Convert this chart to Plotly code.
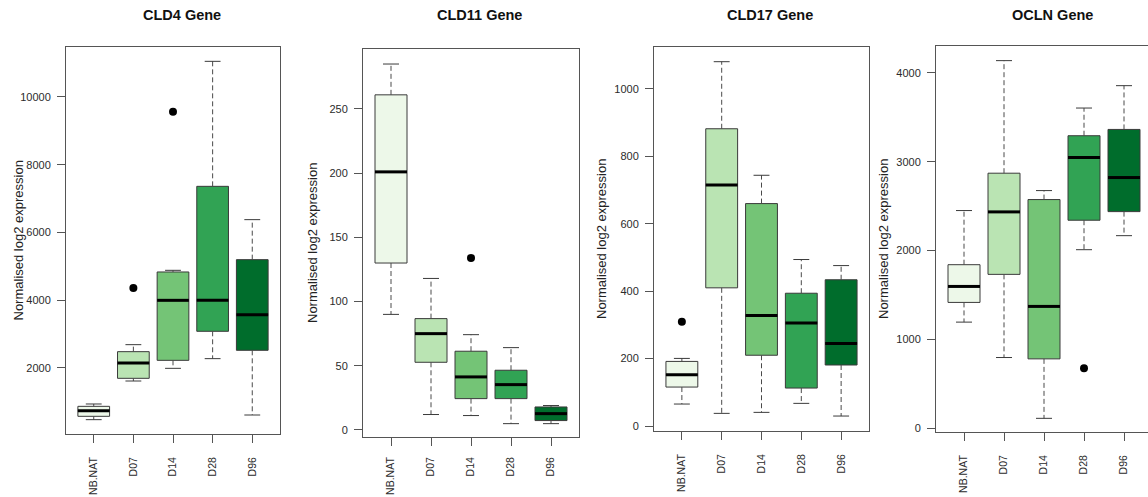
import plotly.graph_objects as go

CATEGORIES = ["NB.NAT", "D07", "D14", "D28", "D96"]
COLORS = ["#EDF8E9", "#BAE4B3", "#74C476", "#31A354", "#006D2C"]

# CLD4 Gene
CLD4_LOWER = [472, 1614, 1988, 2274, 610]
CLD4_Q1 = [571, 1693, 2224, 3081, 2520]
CLD4_MEDIAN = [738, 2146, 3996, 3996, 3573]
CLD4_Q3 = [866, 2480, 4833, 7362, 5197]
CLD4_UPPER = [935, 2687, 4882, 11053, 6378]
CLD4_OUT_GROUP = ["D07", "D14"]
CLD4_OUT_VALUE = [4360, 9567]
CLD4_TICKS = [2000, 4000, 6000, 8000, 10000]

# CLD11 Gene
CLD11_LOWER = [90, 12, 11.2, 4.9, 4.9]
CLD11_Q1 = [130, 52.7, 24.4, 24.4, 7.3]
CLD11_MEDIAN = [201, 75, 41.3, 35.3, 12.7]
CLD11_Q3 = [261, 86.7, 61.3, 46.5, 17.9]
CLD11_UPPER = [285, 118, 74.2, 64.1, 19]
CLD11_OUT_GROUP = ["D14"]
CLD11_OUT_VALUE = [134]
CLD11_TICKS = [0, 50, 100, 150, 200, 250]

# CLD17 Gene
CLD17_LOWER = [65.2, 37.5, 40.5, 67.2, 29.6]
CLD17_Q1 = [115.6, 410, 210, 112.6, 181]
CLD17_MEDIAN = [152, 715, 328, 306, 245]
CLD17_Q3 = [191.7, 882, 660, 394, 434]
CLD17_UPPER = [200.6, 1081, 744, 494, 476]
CLD17_OUT_GROUP = ["NB.NAT"]
CLD17_OUT_VALUE = [309]
CLD17_TICKS = [0, 200, 400, 600, 800, 1000]

# OCLN Gene
OCLN_LOWER = [1193, 794, 109, 2009, 2167]
OCLN_Q1 = [1415, 1731, 779, 2341, 2438]
OCLN_MEDIAN = [1595, 2435, 1370, 3048, 2822]
OCLN_Q3 = [1840, 2871, 2574, 3293, 3364]
OCLN_UPPER = [2450, 4139, 2675, 3605, 3857]
OCLN_OUT_GROUP = ["D28"]
OCLN_OUT_VALUE = [674]
OCLN_TICKS = [0, 1000, 2000, 3000, 4000]

TITLES = ["CLD4 Gene", "CLD11 Gene", "CLD17 Gene", "OCLN Gene"]
Y_TITLE = "Normalised log2 expression"

panels = [
    (CLD4_LOWER, CLD4_Q1, CLD4_MEDIAN, CLD4_Q3, CLD4_UPPER, CLD4_OUT_GROUP, CLD4_OUT_VALUE, CLD4_TICKS),
    (CLD11_LOWER, CLD11_Q1, CLD11_MEDIAN, CLD11_Q3, CLD11_UPPER, CLD11_OUT_GROUP, CLD11_OUT_VALUE, CLD11_TICKS),
    (CLD17_LOWER, CLD17_Q1, CLD17_MEDIAN, CLD17_Q3, CLD17_UPPER, CLD17_OUT_GROUP, CLD17_OUT_VALUE, CLD17_TICKS),
    (OCLN_LOWER, OCLN_Q1, OCLN_MEDIAN, OCLN_Q3, OCLN_UPPER, OCLN_OUT_GROUP, OCLN_OUT_VALUE, OCLN_TICKS),
]

# layout geometry (pixels)
W, H = 1148, 497
PX_X = [(66, 280), (363, 579), (654, 869), (936, 1148)]
PX_Y = [(47, 434), (49, 437), (47, 431), (46, 432)]
X_RANGES = [[0.3, 5.7], [0.3, 5.7], [0.3, 5.7], [0.3, 5.6]]
Y_RANGES = [[49, 11476], [-5.5, 296.7], [-14.8, 1124.6], [-45, 4304]]
X_STANDOFF = [10, 7, 10, 10]
TITLE_X = [181.5, 479.5, 769.5, 1052.5]
YTITLE_X = [18, 312, 602, 884]

FONT = "Liberation Sans, Arial, sans-serif"
AXIS_COLOR = "#555555"
BOX_LINE = "#3a3a3a"
BOXW = 0.8
CAPW = 0.4

fig = go.Figure()
layout = dict(
    width=W, height=H, margin=dict(l=0, r=0, t=0, b=0, autoexpand=False),
    paper_bgcolor="white", plot_bgcolor="white",
    showlegend=False, boxmode="overlay",
    font=dict(family=FONT, color="#333333"),
)
annotations = []

for p, (lo, q1, med, q3, up, og, ov, ticks) in enumerate(panels):
    n = p + 1
    xa = "x" if n == 1 else f"x{n}"
    ya = "y" if n == 1 else f"y{n}"
    xs = list(range(1, len(CATEGORIES) + 1))

    # boxes
    for i, cat in enumerate(CATEGORIES):
        fig.add_trace(go.Box(
            x=[xs[i]], q1=[q1[i]], median=[med[i]], q3=[q3[i]],
            lowerfence=[q1[i]], upperfence=[q3[i]],
            width=BOXW, whiskerwidth=0, fillcolor=COLORS[i],
            line=dict(color=BOX_LINE, width=1), boxpoints=False,
            hoverinfo="skip", xaxis=xa, yaxis=ya, name=cat,
        ))

    # dashed whiskers
    wx, wy = [], []
    for i in range(len(CATEGORIES)):
        wx += [xs[i], xs[i], None, xs[i], xs[i], None]
        wy += [q3[i], up[i], None, q1[i], lo[i], None]
    fig.add_trace(go.Scatter(x=wx, y=wy, mode="lines",
                             line=dict(color="#4a4a4a", width=1, dash="5px,3px"),
                             hoverinfo="skip", xaxis=xa, yaxis=ya))
    # caps
    cx, cy = [], []
    for i in range(len(CATEGORIES)):
        cx += [xs[i] - CAPW / 2, xs[i] + CAPW / 2, None, xs[i] - CAPW / 2, xs[i] + CAPW / 2, None]
        cy += [up[i], up[i], None, lo[i], lo[i], None]
    fig.add_trace(go.Scatter(x=cx, y=cy, mode="lines",
                             line=dict(color="#3a3a3a", width=1),
                             hoverinfo="skip", xaxis=xa, yaxis=ya))
    # thick medians
    mx, my = [], []
    for i in range(len(CATEGORIES)):
        mx += [xs[i] - BOXW / 2, xs[i] + BOXW / 2, None]
        my += [med[i], med[i], None]
    fig.add_trace(go.Scatter(x=mx, y=my, mode="lines",
                             line=dict(color="black", width=3),
                             hoverinfo="skip", xaxis=xa, yaxis=ya))
    # outliers
    ox = [CATEGORIES.index(g) + 1 for g in og]
    fig.add_trace(go.Scatter(x=ox, y=ov, mode="markers",
                             marker=dict(color="black", size=8),
                             hoverinfo="skip", xaxis=xa, yaxis=ya))

    x0, x1 = PX_X[p]
    y0, y1 = PX_Y[p]
    key_x = "xaxis" if n == 1 else f"xaxis{n}"
    key_y = "yaxis" if n == 1 else f"yaxis{n}"
    layout[key_x] = dict(
        domain=[x0 / W, x1 / W], range=X_RANGES[p], anchor=ya,
        tickmode="array", tickvals=xs, ticktext=CATEGORIES, tickangle=-90,
        ticks="outside", ticklen=8, tickcolor=AXIS_COLOR, tickwidth=1,
        showline=True, linecolor=AXIS_COLOR, linewidth=1, mirror=True,
        showgrid=False, zeroline=False, ticklabelstandoff=X_STANDOFF[p],
        automargin=False,
        tickfont=dict(size=10.5, color="#2b2b2b", family=FONT),
    )
    layout[key_y] = dict(
        domain=[1 - y1 / H, 1 - y0 / H], range=Y_RANGES[p], anchor=xa,
        tickmode="array", tickvals=ticks, ticktext=[str(t) for t in ticks],
        ticks="outside", ticklen=8, tickcolor=AXIS_COLOR, tickwidth=1,
        showline=True, linecolor=AXIS_COLOR, linewidth=1, automargin=False,
        mirror=(p < 3), showgrid=False, zeroline=False, ticklabelstandoff=4,
        tickfont=dict(size=11, color="#2b2b2b", family=FONT),
    )
    annotations.append(dict(
        text=f"<b>{TITLES[p]}</b>", x=TITLE_X[p] / W, y=1 - 15 / H,
        xref="paper", yref="paper", showarrow=False,
        xanchor="center", yanchor="middle",
        font=dict(size=14.5, color="#111111", family=FONT),
    ))
    annotations.append(dict(
        text=Y_TITLE, x=YTITLE_X[p] / W, y=1 - ((y0 + y1) / 2) / H,
        xref="paper", yref="paper", showarrow=False, textangle=-90,
        xanchor="center", yanchor="middle",
        font=dict(size=13, color="#222222", family=FONT),
    ))

layout["annotations"] = annotations
fig.update_layout(**layout)
fig.write_html("out.html")
